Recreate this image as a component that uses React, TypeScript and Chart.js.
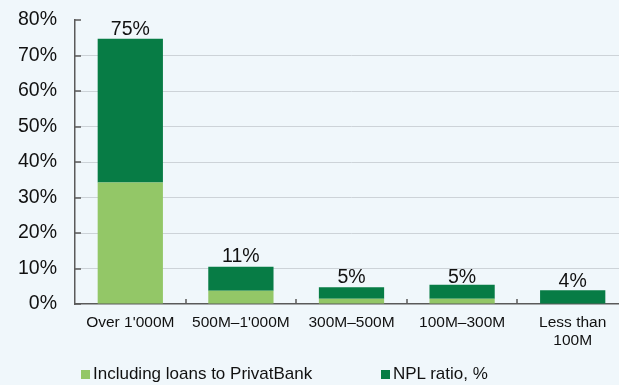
import React, { useEffect, useRef } from "react";
import { Chart, registerables } from "chart.js";

Chart.register(...registerables);

const categories: (string | string[])[] = [
  "Over 1'000M",
  "500M–1'000M",
  "300M–500M",
  "100M–300M",
  ["Less than", "100M"],
];
const privatBankShare = [34.2, 3.7, 1.5, 1.5, 0];
const nplTotal = [74.7, 10.5, 4.7, 5.4, 3.9];
const labelValues = [75, 11, 5, 5, 4];
const seriesNames = ["Including loans to PrivatBank", "NPL ratio, %"];
const yMin = 0;
const yMax = 80;
const yStep = 10;

const LIGHT = "#93C767";
const DARK = "#077C45";
const BG = "#F0F7FB";
const AXIS = "#5A5A5A";
const FONT = "'Liberation Sans', Arial, sans-serif";

const customDraw = {
  id: "customDraw",
  afterDatasetsDraw(chart: any) {
    const ctx = chart.ctx;
    const xs = chart.scales.x;
    const ys = chart.scales.y;
    ctx.save();
    ctx.strokeStyle = AXIS;
    ctx.lineWidth = 1.5;
    ctx.beginPath();
    for (let v = yMin; v <= yMax; v += yStep) {
      const py = Math.round(ys.getPixelForValue(v));
      ctx.moveTo(xs.left, py);
      ctx.lineTo(xs.left + 6, py);
    }
    for (let i = 0; i < categories.length - 1; i++) {
      const px = Math.round((xs.getPixelForValue(i) + xs.getPixelForValue(i + 1)) / 2);
      ctx.moveTo(px, ys.bottom);
      ctx.lineTo(px, ys.bottom - 5);
    }
    ctx.stroke();
    ctx.fillStyle = "#111";
    ctx.font = `19.5px ${FONT}`;
    ctx.textAlign = "center";
    ctx.textBaseline = "alphabetic";
    labelValues.forEach((v, i) => {
      ctx.fillText(`${v}%`, xs.getPixelForValue(i), ys.getPixelForValue(v) - 3);
    });
    ctx.restore();
  },
};

export default function App() {
  const ref = useRef<HTMLCanvasElement>(null);

  useEffect(() => {
    if (!ref.current) return;
    const chart = new Chart(ref.current, {
      type: "bar",
      data: {
        labels: categories as any,
        datasets: [
          {
            label: seriesNames[0],
            data: privatBankShare,
            backgroundColor: LIGHT,
            barPercentage: 0.59,
            categoryPercentage: 1,
          },
          {
            label: seriesNames[1],
            data: nplTotal.map((t, i) => +(t - privatBankShare[i]).toFixed(2)),
            backgroundColor: DARK,
            barPercentage: 0.59,
            categoryPercentage: 1,
          },
        ],
      },
      options: {
        responsive: false,
        animation: false,
        layout: { padding: { top: 20, left: 0, right: 0, bottom: 0 } },
        plugins: {
          legend: { display: false },
          tooltip: { enabled: false },
        },
        scales: {
          x: {
            stacked: true,
            grid: { display: false, drawTicks: false },
            border: { display: true, color: AXIS, width: 1.5 },
            ticks: {
              color: "#111",
              font: { family: FONT, size: 15.5, lineHeight: 1.16 },
              padding: 10,
              maxRotation: 0,
              autoSkip: false,
            },
            afterFit: (s: any) => {
              s.height = 81;
            },
          },
          y: {
            stacked: true,
            min: yMin,
            max: yMax,
            grid: {
              drawTicks: true,
              tickLength: 18,
              tickColor: "rgba(0,0,0,0)",
              color: (c: any) =>
                c.tick && (c.tick.value === yMin || c.tick.value === yMax) ? "rgba(0,0,0,0)" : "#CDD3D8",
              lineWidth: 1,
            },
            border: { display: true, color: AXIS, width: 1.5 },
            ticks: {
              stepSize: yStep,
              color: "#111",
              font: { family: FONT, size: 19.5 },
              padding: 0,
              callback: (v: any) => `${v}%`,
            },
            afterFit: (s: any) => {
              s.width = 75;
            },
          },
        },
      },
      plugins: [customDraw],
    });
    return () => chart.destroy();
  }, []);

  const box = (color: string) => ({
    display: "inline-block",
    width: 9,
    height: 9,
    background: color,
    marginRight: 3,
    verticalAlign: "baseline" as const,
  });

  return (
    <div
      style={{
        position: "fixed",
        left: 0,
        top: 0,
        width: 619,
        height: 385,
        overflow: "hidden",
        background: BG,
      }}
    >
      <canvas ref={ref} width={628} height={385} style={{ position: "absolute", left: 0, top: 0 }} />
      <div
        style={{
          position: "absolute",
          left: 81,
          top: 365,
          font: `17px ${FONT}`,
          lineHeight: "17px",
          color: "#111",
          whiteSpace: "nowrap",
        }}
      >
        <span style={box(LIGHT)} />
        {seriesNames[0]}
      </div>
      <div
        style={{
          position: "absolute",
          left: 381,
          top: 365,
          font: `17px ${FONT}`,
          lineHeight: "17px",
          color: "#111",
          whiteSpace: "nowrap",
        }}
      >
        <span style={box(DARK)} />
        {seriesNames[1]}
      </div>
    </div>
  );
}
